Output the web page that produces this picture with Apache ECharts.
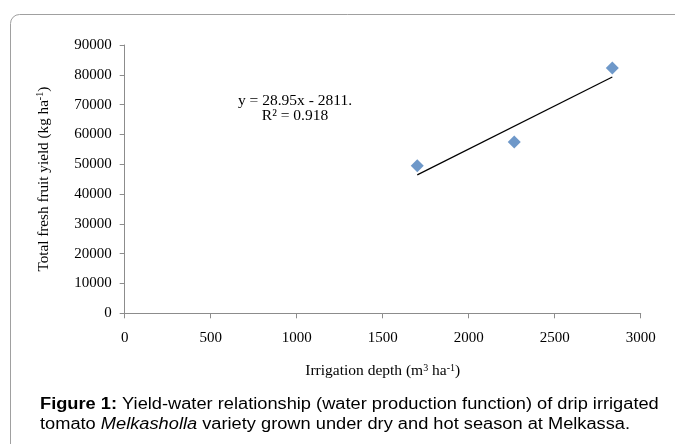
<!DOCTYPE html>
<html>
<head>
<meta charset="utf-8">
<script src="https://cdn.jsdelivr.net/npm/echarts@6/dist/echarts.min.js"></script>
<style>html,body{margin:0;padding:0;background:#fff;}#c{width:675px;height:444px;}</style>
</head>
<body>
<div id="c"></div>
<script>
const irrigationDepth = [1701, 2265, 2835];
const fruitYield = [49470, 57420, 82270];
const trendSlope = 28.95;
const trendIntercept = -2811;
const xTicks = [0, 500, 1000, 1500, 2000, 2500, 3000];
const yTicks = [0, 10000, 20000, 30000, 40000, 50000, 60000, 70000, 80000, 90000];

const points = irrigationDepth.map((x, i) => [x, fruitYield[i]]);
const xMin = Math.min(...irrigationDepth), xMax = Math.max(...irrigationDepth);
const trend = [[xMin, trendSlope * xMin + trendIntercept], [xMax, trendSlope * xMax + trendIntercept]];

const serif = '"Liberation Serif", "Times New Roman", serif';
const sans = '"Liberation Sans", Arial, sans-serif';

const chart = echarts.init(document.getElementById('c'), null, {renderer: 'canvas'});
chart.setOption({
  animation: false,
  backgroundColor: '#fff',
  grid: {left: 124.7, right: 34.3, top: 45, bottom: 130.7, containLabel: false},
  xAxis: {
    type: 'value', min: xTicks[0], max: xTicks[xTicks.length - 1], interval: 500,
    splitLine: {show: false},
    axisLine: {lineStyle: {color: '#8c8c8c', width: 1}},
    axisTick: {show: true, inside: false, length: 5, lineStyle: {color: '#8c8c8c'}},
    axisLabel: {color: '#000', fontFamily: serif, fontSize: 15, margin: 17, formatter: v => String(v)},
    name: 'Irrigation depth (m{sup|3} ha{sup|-1})',
    nameLocation: 'middle', nameGap: 50,
    nameTextStyle: {
      color: '#000', fontFamily: serif, fontSize: 15.5,
      rich: {sup: {fontSize: 10, fontFamily: serif, color: '#000', verticalAlign: 'top', lineHeight: 16}}
    }
  },
  yAxis: {
    type: 'value', min: yTicks[0], max: yTicks[yTicks.length - 1], interval: 10000,
    splitLine: {show: false},
    axisLine: {show: true, lineStyle: {color: '#8c8c8c', width: 1}},
    axisTick: {show: true, inside: false, length: 5, lineStyle: {color: '#8c8c8c'}},
    axisLabel: {color: '#000', fontFamily: serif, fontSize: 15, margin: 13, formatter: v => String(v)},
    name: 'Total fresh fruit yield (kg ha{sup|-1})',
    nameLocation: 'middle', nameGap: 73,
    nameTextStyle: {
      color: '#000', fontFamily: serif, fontSize: 15.2,
      rich: {sup: {fontSize: 10, fontFamily: serif, color: '#000', verticalAlign: 'top', lineHeight: 16}}
    }
  },
  series: [
    {
      type: 'line', data: trend, symbol: 'none', silent: true,
      lineStyle: {color: '#000', width: 1.2}, z: 1
    },
    {
      type: 'scatter', data: points, symbol: 'diamond', symbolSize: 13,
      itemStyle: {color: '#4A7EBB'}, z: 2
    }
  ],
  graphic: [
    {
      type: 'rect', z: -1, silent: true,
      shape: {x: 10.5, y: 14.5, width: 720, height: 480, r: 9},
      style: {fill: 'none', stroke: '#a0a0a0', lineWidth: 1}
    },
    {
      type: 'text', silent: true, x: 295, y: 93,
      style: {
        text: 'y = 28.95x - 2811.\nR² = 0.918', fill: '#000', font: '15.5px ' + serif,
        align: 'center', verticalAlign: 'top', lineHeight: 15
      }
    },
    {
      type: 'text', silent: true, x: 40, y: 395, scaleX: 1.14,
      style: {
        text: '{b|Figure 1:} Yield-water relationship (water production function) of drip irrigated\ntomato {i|Melkasholla} variety grown under dry and hot season at Melkassa.',
        fill: '#000', font: '16px ' + sans, lineHeight: 20,
        rich: {
          b: {fontWeight: 'bold', fontSize: 16, fontFamily: sans, fill: '#000', lineHeight: 20},
          i: {fontStyle: 'italic', fontSize: 16, fontFamily: sans, fill: '#000', lineHeight: 20}
        }
      }
    }
  ]
});
</script>
</body>
</html>
